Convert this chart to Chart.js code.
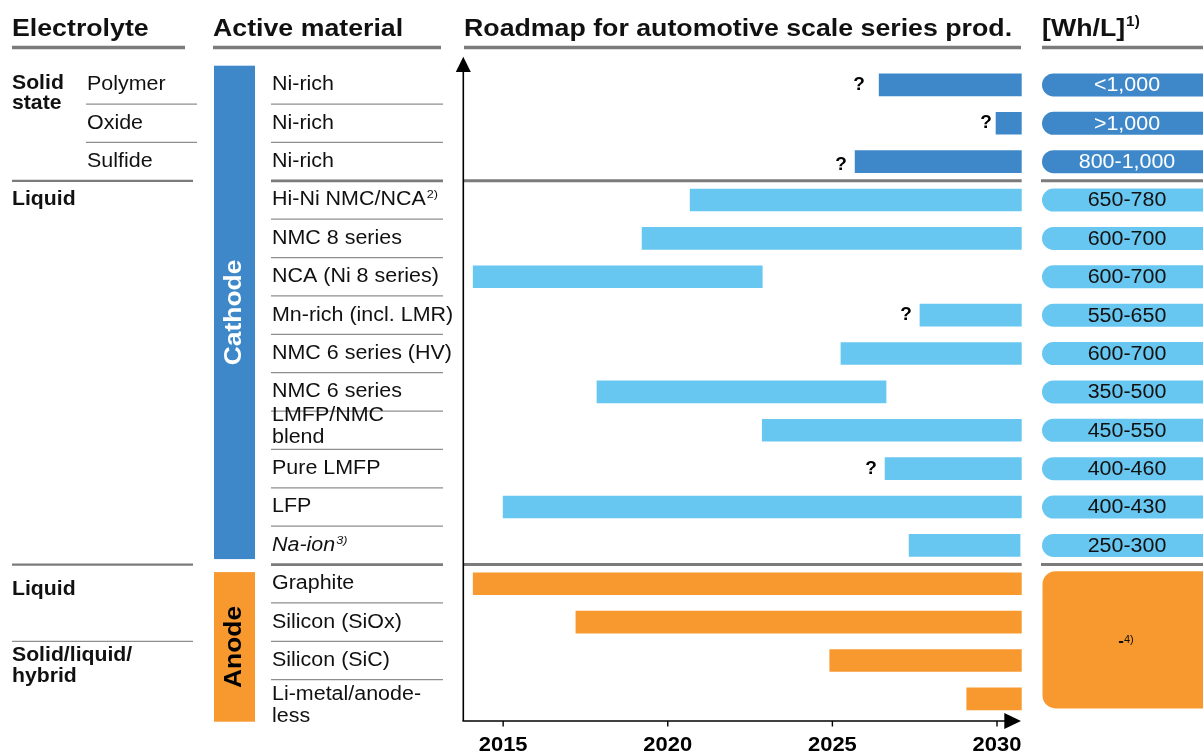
<!DOCTYPE html>
<html><head><meta charset="utf-8">
<script src="https://cdn.jsdelivr.net/npm/chart.js@4.4.1/dist/chart.umd.min.js"></script>
<style>html,body{margin:0;padding:0;background:#fff;overflow:hidden}#wrap{width:1203px;height:755px;position:relative}canvas{display:block}</style>
</head><body><div id="wrap"><canvas id="c" width="1203" height="755"></canvas></div>
<script>
// ---------------- DATA ----------------
const materials = ['Ni-rich','Ni-rich','Ni-rich','Hi-Ni NMC/NCA','NMC 8 series','NCA (Ni 8 series)',
  'Mn-rich (incl. LMR)','NMC 6 series (HV)','NMC 6 series',['LMFP/NMC','blend'],'Pure LMFP','LFP','Na-ion',
  'Graphite','Silicon (SiOx)','Silicon (SiC)',['Li-metal/anode-','less']];
const materialNotes = ['','','','2)','','','','','','','','','3)','','','',''];
const component = ['Cathode','Cathode','Cathode','Cathode','Cathode','Cathode','Cathode','Cathode','Cathode',
  'Cathode','Cathode','Cathode','Cathode','Anode','Anode','Anode','Anode'];
const electrolyte = ['Solid state','Solid state','Solid state','Liquid','Liquid','Liquid','Liquid','Liquid',
  'Liquid','Liquid','Liquid','Liquid','Liquid','Liquid','Liquid','Solid/liquid/hybrid','Solid/liquid/hybrid'];
const solidSubtype = ['Polymer','Oxide','Sulfide'];
const startYear = [2026.42,2029.97,2025.69,2020.68,2019.22,2014.09,2027.66,2025.26,2017.85,2022.87,
  2026.60,2015.00,2027.33,2014.09,2017.21,2024.92,2029.08];
const endYear = [2030.75,2030.75,2030.75,2030.75,2030.75,2022.87,2030.75,2030.75,2026.63,2030.75,
  2030.75,2030.75,2030.70,2030.75,2030.75,2030.75,2030.75];
const uncertain = [true,true,true,false,false,false,true,false,false,false,true,false,false,false,false,false,false];
const densityWhL = ['<1,000','>1,000','800-1,000','650-780','600-700','600-700','550-650','600-700',
  '350-500','450-550','400-460','400-430','250-300'];
const anodeDensity = '-';
const anodeDensityNote = '4)';
const yearTicks = [2015,2020,2025,2030];
const headers = ['Electrolyte','Active material','Roadmap for automotive scale series prod.','[Wh/L]'];
const headerNote = '1)';

// ---------------- STYLE ----------------
const FF = "'Liberation Sans', Arial, Helvetica, sans-serif";
const SX = 1.1;
const DARK = '#3E88C9', LIGHT = '#68C7F1', ORANGE = '#F7992F';
const GREY = '#7B7B7B', THIN = '#8E8E8E';
const qmarkOffset = {0: -20, 1: -10};   // horizontal gap of "?" before bar start (default -14)
function rowColor(i){
  if (component[i] === 'Anode') return ORANGE;
  return electrolyte[i] === 'Solid state' ? DARK : LIGHT;
}

function T(ctx, s, x, y, o = {}) {
  ctx.save();
  ctx.font = `${o.style || 'normal'} ${o.weight || 'normal'} ${o.size || 19.5}px ${FF}`;
  ctx.fillStyle = o.color || '#111';
  ctx.textAlign = o.align || 'left';
  ctx.textBaseline = o.baseline || 'middle';
  ctx.translate(x, y);
  if (o.rot) ctx.rotate(o.rot);
  const sx = o.sx || SX;
  ctx.scale(sx, 1);
  ctx.fillText(s, 0, 0);
  const w = ctx.measureText(s).width * sx;
  ctx.restore();
  return w;
}
function line(ctx, x1, y1, x2, y2, c, w) {
  ctx.save(); ctx.strokeStyle = c; ctx.lineWidth = w;
  ctx.beginPath(); ctx.moveTo(x1, y1); ctx.lineTo(x2, y2); ctx.stroke(); ctx.restore();
}
function rrect(ctx, x, y, w, h, r, c) {
  ctx.save(); ctx.fillStyle = c; ctx.beginPath();
  ctx.roundRect(x, y, w, h, r); ctx.fill(); ctx.restore();
}

const decor = {
  id: 'decor',
  beforeDatasetsDraw(chart) {
    const ctx = chart.ctx, ys = chart.scales.y, a = chart.chartArea;
    const cy = i => ys.getPixelForValue(i);
    const bnd = i => (cy(i) + cy(i + 1)) / 2;
    const n = materials.length;
    [[12,185],[213,441],[464,1021],[1042,1203]].forEach(([x1,x2]) => line(ctx,x1,47.5,x2,47.5,GREY,3.5));
    for (let i = 0; i < n - 1; i++) {
      const y = bnd(i);
      const thick = (electrolyte[i] === 'Solid state' && electrolyte[i+1] !== 'Solid state') ||
                    (component[i] !== component[i+1]);
      if (thick) {
        line(ctx, 271, y, 443, y, GREY, 2.6);
        line(ctx, a.left, y, a.right, y, GREY, 3);
        line(ctx, 1041, y, 1203, y, GREY, 3);
        line(ctx, 12, y, 193, y, GREY, 2.4);
      } else {
        line(ctx, 271, y, 443, y, THIN, 1.2);
      }
    }
    for (let i = 0; i < solidSubtype.length - 1; i++) line(ctx, 86, bnd(i), 197, bnd(i), THIN, 1.2);
    for (let i = 0; i < n - 1; i++) {
      if (component[i] === 'Anode' && electrolyte[i] !== electrolyte[i+1]) line(ctx, 12, bnd(i), 193, bnd(i), THIN, 1.4);
    }
    const firstAnode = component.indexOf('Anode');
    const split = bnd(firstAnode - 1);
    ctx.fillStyle = DARK; ctx.fillRect(214, a.top, 41, split - 5.5 - a.top);
    ctx.fillStyle = ORANGE; ctx.fillRect(214, split + 7.5, 41, 721.7 - split - 7.5);
    densityWhL.forEach((v, i) => {
      const y = cy(i);
      rrect(ctx, 1042, y - 11.5, 200, 23, 11.5, rowColor(i));
    });
    const aTop = cy(firstAnode) - 12.5, aBot = cy(n - 1) + 9.5;
    rrect(ctx, 1042.5, aTop, 200, aBot - aTop, 13, ORANGE);
  },
  afterDraw(chart) {
    const ctx = chart.ctx, ys = chart.scales.y, xs = chart.scales.x, a = chart.chartArea;
    const cy = i => ys.getPixelForValue(i);
    const n = materials.length;
    const hx = [12, 213, 464, 1042];
    headers.forEach((h, k) => {
      const w = T(ctx, h, hx[k], 35.7, {weight: 'bold', size: 24.3, baseline: 'alphabetic'});
      if (k === 3) T(ctx, headerNote, hx[k] + w + 1, 26, {weight: 'bold', size: 14, baseline: 'alphabetic'});
    });
    const groupRows = {};
    electrolyte.forEach((e, i) => {
      const key = component[i] + '|' + e;
      (groupRows[key] = groupRows[key] || []).push(i);
    });
    Object.entries(groupRows).forEach(([key, rows]) => {
      const e = key.split('|')[1];
      const r0 = rows[0];
      let lines;
      if (e === 'Solid state') lines = ['Solid', 'state'];
      else if (e === 'Solid/liquid/hybrid') lines = ['Solid/liquid/', 'hybrid'];
      else lines = [e];
      let y0 = cy(r0);
      if (component[r0] === 'Anode' && e === 'Liquid') y0 += 6;
      if (lines.length === 2) y0 -= (e === 'Solid state' ? 1.5 : 4.5);
      lines.forEach((s, k) => T(ctx, s, 12, y0 + k * 20.5, {weight: 'bold', size: 19.3}));
    });
    solidSubtype.forEach((s, i) => T(ctx, s, 87, cy(i), {size: 19.5}));
    const firstAnode = component.indexOf('Anode');
    const split = (cy(firstAnode - 1) + cy(firstAnode)) / 2;
    T(ctx, 'Cathode', 234.5, (a.top + split - 5.5) / 2, {weight: 'bold', size: 24, color: '#fff', align: 'center', rot: -Math.PI / 2});
    T(ctx, 'Anode', 234.5, (split + 7.5 + 721.7) / 2, {weight: 'bold', size: 24, color: '#000', align: 'center', rot: -Math.PI / 2});
    materials.forEach((m, i) => {
      const y = cy(i);
      const italic = materialNotes[i] === '3)';
      const st = italic ? 'italic' : 'normal';
      if (Array.isArray(m)) {
        const off = component[i] === 'Anode' ? -4 : -14.5;
        m.forEach((s, k) => T(ctx, s, 272, y + off + k * 21.5, {size: 19.5}));
      } else {
        const w = T(ctx, m, 272, y, {size: 19.5, style: st});
        if (materialNotes[i]) T(ctx, materialNotes[i], 272 + w + 1, y - 5, {size: 11.5, style: st});
      }
    });
    uncertain.forEach((u, i) => {
      if (!u) return;
      const x = xs.getPixelForValue(startYear[i]);
      const off = qmarkOffset[i] !== undefined ? qmarkOffset[i] : -14;
      T(ctx, '?', x + off, cy(i) + (i === 2 ? 3.5 : 0), {weight: 'bold', size: 19, align: 'center', color: '#000', sx: 1});
    });
    densityWhL.forEach((v, i) => {
      const c = rowColor(i) === DARK ? '#fff' : '#111';
      T(ctx, v, 1127, cy(i) + 1, {size: 19.5, align: 'center', color: c});
    });
    const aMid = (cy(firstAnode) - 12.5 + cy(n - 1) + 9.5) / 2;
    T(ctx, anodeDensity, 1121, aMid + 1, {size: 17, align: 'center', color: '#111', weight: 'bold', sx: 1});
    T(ctx, anodeDensityNote, 1124, aMid, {size: 11, color: '#111', sx: 1});
    const ax = a.left, ay = 721;
    line(ctx, ax, ay, ax, 70, '#000', 1.6);
    line(ctx, ax - 0.8, ay, 1006, ay, '#000', 1.6);
    ctx.fillStyle = '#000';
    ctx.beginPath(); ctx.moveTo(ax, 56.7); ctx.lineTo(ax - 7.5, 72); ctx.lineTo(ax + 7.5, 72); ctx.closePath(); ctx.fill();
    ctx.beginPath(); ctx.moveTo(1021, ay); ctx.lineTo(1004.3, ay - 8); ctx.lineTo(1004.3, ay + 8); ctx.closePath(); ctx.fill();
    yearTicks.forEach(t => {
      const x = xs.getPixelForValue(t);
      line(ctx, x, ay, x, ay + 5.5, '#000', 1.4);
      T(ctx, String(t), x, 745, {weight: 'bold', size: 20.5, align: 'center', color: '#000', sx: 1.07});
    });
  }
};

new Chart(document.getElementById('c'), {
  type: 'bar',
  data: {
    labels: materials,
    datasets: [{
      data: startYear.map((s, i) => [s, endYear[i]]),
      backgroundColor: materials.map((m, i) => rowColor(i)),
      borderWidth: 0,
      barThickness: 22
    }]
  },
  options: {
    indexAxis: 'y',
    responsive: false,
    animation: false,
    devicePixelRatio: 1,
    layout: {padding: {left: 463.3, right: 181.3, top: 65.7, bottom: 36.9}},
    plugins: {legend: {display: false}, tooltip: {enabled: false}},
    scales: {
      x: {type: 'linear', min: 2013.79, max: 2030.75, display: false},
      y: {type: 'category', display: false, offset: true}
    }
  },
  plugins: [decor]
});
</script>
</body></html>
